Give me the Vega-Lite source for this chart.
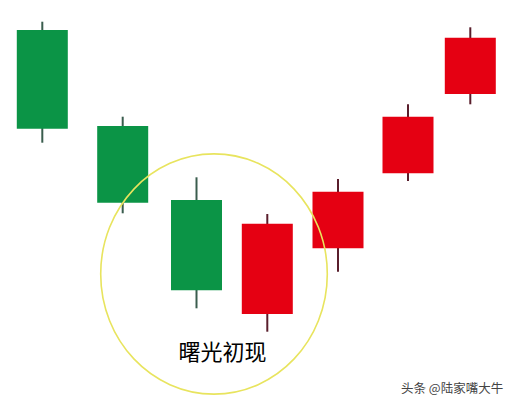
{
  "$schema": "https://vega.github.io/schema/vega-lite/v6.json",
  "width": 517,
  "height": 406,
  "padding": 0,
  "autosize": {"type": "fit", "contains": "padding"},
  "background": "white",
  "view": {"stroke": null},
  "config": {"scale": {"continuousPadding": 0}},
  "datasets": {
    "candles": [
      {"t": 42.3, "open": 376, "close": 277.3, "high": 384.3, "low": 263.3, "dir": "down"},
      {"t": 122.7, "open": 280, "close": 203.3, "high": 289.3, "low": 192.7, "dir": "down"},
      {"t": 196.5, "open": 206, "close": 115.7, "high": 228.7, "low": 97.7, "dir": "down"},
      {"t": 267.3, "open": 92, "close": 182.3, "high": 192, "low": 74.3, "dir": "up"},
      {"t": 338, "open": 157.7, "close": 214.3, "high": 227, "low": 134.3, "dir": "up"},
      {"t": 408, "open": 232.7, "close": 289.3, "high": 301.7, "low": 225, "dir": "up"},
      {"t": 470.3, "open": 312, "close": 368.3, "high": 378.7, "low": 301.7, "dir": "up"}
    ],
    "notes": [
      {"t": 214, "p": 132, "label": "曙光初现"}
    ],
    "labels": [
      {"t": 222.5, "p": 53.5, "label": "曙光初现"}
    ],
    "mark": [
      {"t": 401, "p": 17.5, "label": "头条 @陆家嘴大牛"}
    ]
  },
  "layer": [
    {
      "data": {"name": "candles"},
      "mark": {"type": "rule", "strokeWidth": 2},
      "encoding": {
        "x": {"field": "t", "type": "quantitative", "scale": {"domain": [0, 517], "nice": false, "zero": false, "padding": 0}, "axis": null},
        "y": {"field": "low", "type": "quantitative", "scale": {"domain": [0, 406], "nice": false, "zero": false, "padding": 0}, "axis": null},
        "y2": {"field": "high"},
        "color": {"field": "dir", "type": "nominal", "scale": {"domain": ["down", "up"], "range": ["#3a5d4e", "#5a1e2c"]}, "legend": null}
      }
    },
    {
      "data": {"name": "candles"},
      "mark": {"type": "bar", "size": 51},
      "encoding": {
        "x": {"field": "t", "type": "quantitative"},
        "y": {"field": "open", "type": "quantitative"},
        "y2": {"field": "close"},
        "fill": {"field": "dir", "type": "nominal", "scale": {"domain": ["down", "up"], "range": ["#0b9446", "#e50012"]}, "legend": null}
      }
    },
    {
      "data": {"name": "notes"},
      "mark": {"type": "point", "filled": false, "shape": "M -1 0 A 1 1.06 0 1 0 1 0 A 1 1.06 0 1 0 -1 0 Z", "size": 51348, "stroke": "#e8e45e", "strokeWidth": 1.6, "opacity": 1},
      "encoding": {
        "x": {"field": "t", "type": "quantitative"},
        "y": {"field": "p", "type": "quantitative"}
      }
    },
    {
      "data": {"name": "labels"},
      "mark": {"type": "text", "font": "Noto Sans CJK SC", "fontSize": 22, "color": "#000000", "align": "center", "baseline": "middle"},
      "encoding": {
        "x": {"field": "t", "type": "quantitative"},
        "y": {"field": "p", "type": "quantitative"},
        "text": {"field": "label"}
      }
    },
    {
      "data": {"name": "mark"},
      "mark": {"type": "text", "font": "Noto Sans CJK SC", "fontSize": 12.5, "color": "#444444", "align": "left", "baseline": "middle"},
      "encoding": {
        "x": {"field": "t", "type": "quantitative"},
        "y": {"field": "p", "type": "quantitative"},
        "text": {"field": "label"}
      }
    }
  ]
}
